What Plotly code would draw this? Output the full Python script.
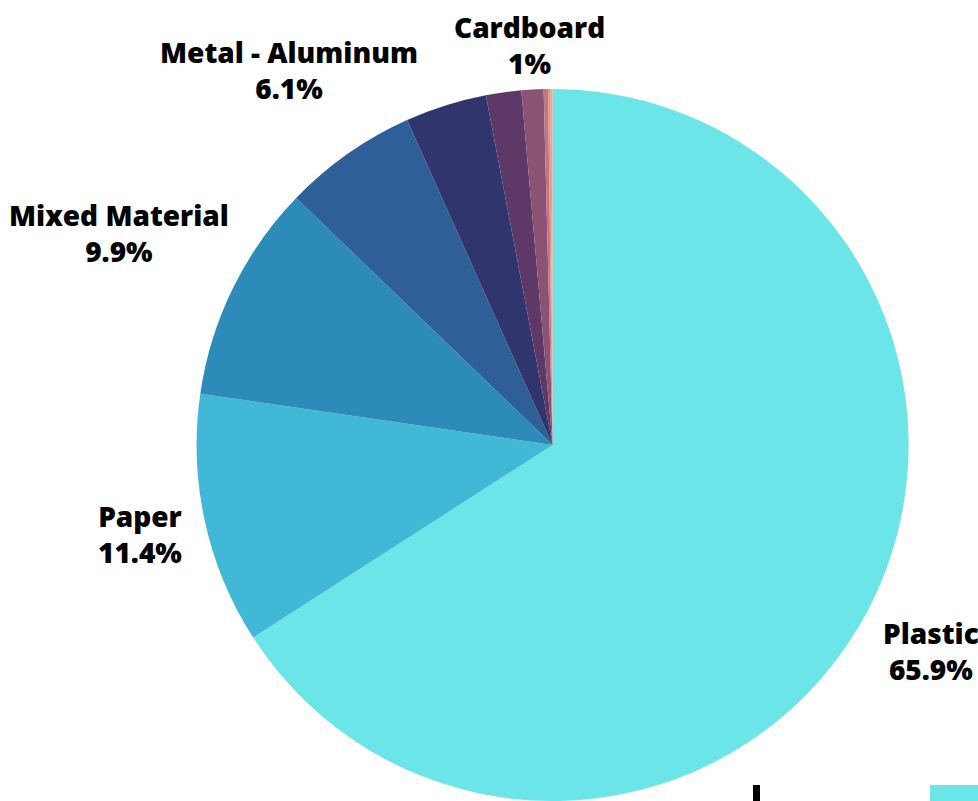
import math
import plotly.graph_objects as go

# Share of packaging by material, clockwise from 12 o'clock
materials = ["Plastic", "Paper", "Mixed Material", "Metal - Aluminum",
             "Glass", "Metal - Steel", "Cardboard", "Wood", "Textile", "Other"]
shares = [65.9, 11.4, 9.9, 6.1, 3.7, 1.6, 1.0, 0.2, 0.1, 0.1]
labelled = ["Plastic", "Paper", "Mixed Material", "Metal - Aluminum", "Cardboard"]

colors = ["#6ce5e8", "#41b8d5", "#2d8bba", "#2f5f98", "#31356e",
          "#5e3968", "#8a5273", "#bf7686", "#e58f86", "#f39f8e"]

W, H = 978, 801
DOM_X = [0.201, 0.929]
DOM_Y = [0.0, 0.889]

# radial distance of each label block centre, in pie radii
label_dist = {"Plastic": 1.21, "Paper": 1.186, "Mixed Material": 1.355,
              "Metal - Aluminum": 1.286, "Cardboard": 1.126}

fig = go.Figure(go.Pie(
    labels=materials,
    values=shares,
    sort=False,
    direction="clockwise",
    rotation=0,
    marker=dict(colors=colors, line=dict(width=0)),
    textinfo="none",
    hoverinfo="label+percent",
    domain=dict(x=DOM_X, y=DOM_Y),
    showlegend=False,
))

# pie geometry in pixels (margins are zero)
w_px = (DOM_X[1] - DOM_X[0]) * W
h_px = (DOM_Y[1] - DOM_Y[0]) * H
radius = min(w_px, h_px) / 2
cx = (DOM_X[0] + DOM_X[1]) / 2 * W
cy = H - (DOM_Y[0] + DOM_Y[1]) / 2 * H

total = sum(shares)
cum = 0.0
annotations = []
for name, val in zip(materials, shares):
    mid = (cum + val / 2) / total * 2 * math.pi
    cum += val
    if name not in labelled:
        continue
    d = radius * label_dist[name]
    px = cx + d * math.sin(mid)
    py = cy - d * math.cos(mid)
    pct = f"{val:g}%"
    annotations.append(dict(
        x=px / W, y=1 - py / H, xref="paper", yref="paper",
        xanchor="center", yanchor="middle", showarrow=False,
        text=f"{name}<br>{pct}",
        font=dict(family="Open Sans", size=28, color="#000000", weight=800),
        align="center",
    ))

# top edge of the legend row below the chart
shapes = [
    dict(type="rect", xref="paper", yref="paper",
         x0=930 / W, x1=1.0, y0=0, y1=16 / H,
         fillcolor="#6ce5e8", line=dict(width=0)),
    dict(type="rect", xref="paper", yref="paper",
         x0=753 / W, x1=760 / W, y0=0, y1=16 / H,
         fillcolor="#000000", line=dict(width=0)),
]

fig.update_layout(
    width=W, height=H,
    margin=dict(l=0, r=0, t=0, b=0),
    paper_bgcolor="#ffffff",
    plot_bgcolor="#ffffff",
    annotations=annotations,
    shapes=shapes,
)

fig.write_html("out.html")
